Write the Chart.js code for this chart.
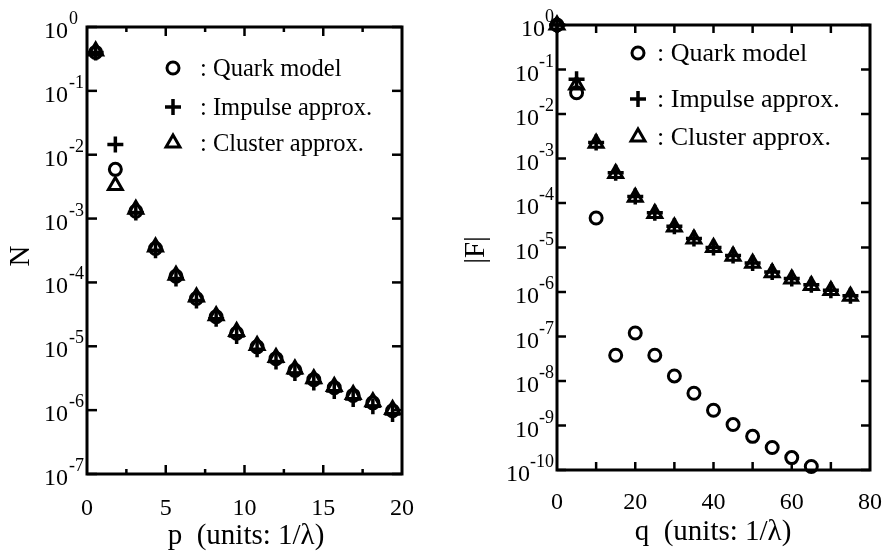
<!DOCTYPE html>
<html>
<head>
<meta charset="utf-8">
<script src="https://cdn.jsdelivr.net/npm/chart.js@4.4.1/dist/chart.umd.min.js"></script>
<style>
  body { margin: 0; background: #fff; }
  #leftChart { position: absolute; left: 0; top: 0; }
  #rightChart { position: absolute; left: 440px; top: 0; }
</style>
</head>
<body>
<canvas id="leftChart" width="440" height="552"></canvas>
<canvas id="rightChart" width="447" height="552"></canvas>
<script>
const serif = '"Liberation Serif", "Times New Roman", serif';

// ---- left panel: N vs p ----
const pValues = [0.55, 1.8, 3.1, 4.35, 5.65, 6.95, 8.2, 9.5, 10.8, 12.0, 13.2, 14.4, 15.7, 16.9, 18.15, 19.4];
const nQuark = [0.40, 5.9e-3, 1.3e-3, 3.4e-4, 1.25e-4, 5.6e-5, 2.9e-5, 1.6e-5, 9.8e-6, 6.4e-6, 4.2e-6, 3.0e-6, 2.25e-6, 1.7e-6, 1.3e-6, 9.8e-7];
const nImpulse = [0.40, 1.45e-2, 1.25e-3, 3.2e-4, 1.15e-4, 5.2e-5, 2.7e-5, 1.45e-5, 9.0e-6, 5.8e-6, 3.8e-6, 2.7e-6, 2.0e-6, 1.5e-6, 1.15e-6, 8.7e-7];
const nCluster = [0.42, 3.3e-3, 1.4e-3, 3.6e-4, 1.3e-4, 5.9e-5, 3.0e-5, 1.7e-5, 1.03e-5, 6.7e-6, 4.4e-6, 3.1e-6, 2.35e-6, 1.75e-6, 1.35e-6, 1.02e-6];

// ---- right panel: |F| vs q ----
const qValues = [0, 5, 10, 15, 20, 25, 30, 35, 40, 45, 50, 55, 60, 65, 70, 75];
const fQuark = [1, 0.03, 4.6e-5, 3.8e-8, 1.2e-7, 3.8e-8, 1.3e-8, 5.3e-9, 2.2e-9, 1.05e-9, 5.7e-10, 3.2e-10, 1.9e-10, 1.2e-10, null, null];
const fImpulse = [1, 0.06, 2.3e-3, 4.8e-4, 1.4e-4, 6.0e-5, 3.0e-5, 1.6e-5, 1.0e-5, 6.6e-6, 4.5e-6, 2.8e-6, 2.0e-6, 1.45e-6, 1.1e-6, 8.2e-7];
const fCluster = [1, 0.045, 2.2e-3, 4.6e-4, 1.35e-4, 5.8e-5, 2.9e-5, 1.55e-5, 1.0e-5, 6.4e-6, 4.4e-6, 2.7e-6, 1.95e-6, 1.4e-6, 1.08e-6, 8.0e-7];

const seriesNames = [': Quark model', ': Impulse approx.', ': Cluster approx.'];

// axis ticks
const leftExponents = [0, -1, -2, -3, -4, -5, -6, -7];
const leftXLabels = [0, 5, 10, 15, 20];
const leftXMajor = [5, 10, 15];
const leftXMinor = [2.5, 7.5, 12.5, 17.5];
const rightExponents = [0, -1, -2, -3, -4, -5, -6, -7, -8, -9, -10];
const rightXLabels = [0, 20, 40, 60, 80];
const rightXTicks = [10, 20, 30, 40, 50, 60, 70];

const markers = [
  { pointStyle: 'circle', radius: 6, width: 3 },
  { pointStyle: 'cross', radius: 8, width: 3.5 },
  { pointStyle: 'triangle', radius: 8, width: 3 }
];

function toPoints(xs, ys) {
  const pts = [];
  xs.forEach((x, i) => { if (ys[i] != null) pts.push({ x: x, y: ys[i] }); });
  return pts;
}

function makeDatasets(xs, series) {
  return series.map((ys, i) => ({
    label: seriesNames[i],
    data: toPoints(xs, ys),
    pointStyle: markers[i].pointStyle,
    pointRadius: markers[i].radius,
    pointBorderWidth: markers[i].width,
    pointBorderColor: '#000',
    pointBackgroundColor: 'rgba(0,0,0,0)',
    showLine: false,
    clip: false
  }));
}

function drawMarker(ctx, m, x, y) {
  ctx.save();
  ctx.strokeStyle = '#000';
  ctx.lineWidth = m.width;
  ctx.beginPath();
  if (m.pointStyle === 'circle') {
    ctx.arc(x, y, m.radius, 0, Math.PI * 2);
  } else if (m.pointStyle === 'cross') {
    ctx.moveTo(x - m.radius, y); ctx.lineTo(x + m.radius, y);
    ctx.moveTo(x, y - m.radius); ctx.lineTo(x, y + m.radius);
  } else {
    for (let k = 0; k < 3; k++) {
      const a = k * 2 * Math.PI / 3;
      const px = x + Math.sin(a) * m.radius, py = y - Math.cos(a) * m.radius;
      if (k === 0) ctx.moveTo(px, py); else ctx.lineTo(px, py);
    }
    ctx.closePath();
  }
  ctx.stroke();
  ctx.restore();
}

function seg(ctx, x1, y1, x2, y2) {
  ctx.beginPath(); ctx.moveTo(x1, y1); ctx.lineTo(x2, y2); ctx.stroke();
}

// frame with inward ticks, tick labels, titles and the legend
const paperAxes = {
  id: 'paperAxes',
  beforeDatasetsDraw(chart, args, o) {
    const { ctx, chartArea: a, scales: { x, y } } = chart;
    ctx.save();
    ctx.strokeStyle = '#000';
    ctx.lineWidth = 2.5;
    o.exponents.forEach(e => {
      const py = y.getPixelForValue(Math.pow(10, e));
      seg(ctx, a.left, py, a.left + o.yTickLen, py);
      seg(ctx, a.right, py, a.right - o.yTickLen, py);
    });
    o.xTicks.forEach(t => {
      const px = x.getPixelForValue(t.v);
      seg(ctx, px, a.bottom, px, a.bottom - t.len);
      seg(ctx, px, a.top, px, a.top + t.len);
    });
    ctx.lineWidth = 3;
    ctx.strokeRect(a.left, a.top, a.right - a.left, a.bottom - a.top);
    ctx.restore();
  },
  afterDraw(chart, args, o) {
    const { ctx, chartArea: a, scales: { x, y } } = chart;
    ctx.save();
    ctx.fillStyle = '#000';
    ctx.textBaseline = 'alphabetic';
    // y tick labels 10^n
    o.exponents.forEach(e => {
      const py = y.getPixelForValue(Math.pow(10, e));
      const expText = e === 0 ? '0' : '-' + Math.abs(e);
      ctx.font = '18px ' + serif;
      const ew = ctx.measureText(expText).width;
      let baseRight;
      if (o.expAlign === 'left') {
        baseRight = a.left - 19;
        ctx.textAlign = 'left';
        ctx.fillText(expText, baseRight + 1, py - 3);
      } else {
        baseRight = a.left - 3 - ew;
        ctx.textAlign = 'right';
        ctx.fillText(expText, a.left - 3, py - 3);
      }
      ctx.font = '24px ' + serif;
      ctx.textAlign = 'right';
      ctx.fillText('10', baseRight, py + 11);
    });
    // x tick labels
    ctx.font = '24px ' + serif;
    ctx.textAlign = 'center';
    o.xLabels.forEach(v => {
      ctx.fillText(String(v), x.getPixelForValue(v), o.xLabelY);
    });
    // axis titles
    ctx.font = '29px ' + serif;
    ctx.fillText(o.xTitle, o.xTitleX, o.xTitleY);
    ctx.save();
    ctx.translate(o.yTitleX, o.yTitleY);
    ctx.rotate(-Math.PI / 2);
    ctx.textBaseline = 'middle';
    ctx.fillText(o.yTitle, 0, 0);
    ctx.restore();
    // legend
    ctx.font = o.legendFont + 'px ' + serif;
    ctx.textAlign = 'left';
    seriesNames.forEach((name, i) => {
      drawMarker(ctx, markers[i], o.legendX, o.legendRows[i]);
      ctx.fillText(name, o.legendTextX, o.legendRows[i] + 8);
    });
    ctx.restore();
  }
};

function baseOptions(xMin, xMax, yMin, padding, axes) {
  return {
    responsive: false,
    animation: false,
    layout: { padding: padding },
    scales: {
      x: { type: 'linear', min: xMin, max: xMax, display: false },
      y: { type: 'logarithmic', min: yMin, max: 1, display: false }
    },
    plugins: {
      legend: { display: false },
      tooltip: { enabled: false },
      paperAxes: axes
    }
  };
}

new Chart('leftChart', {
  type: 'scatter',
  data: { datasets: makeDatasets(pValues, [nQuark, nImpulse, nCluster]) },
  options: baseOptions(0, 20, 1e-7, { left: 87, right: 38, top: 27, bottom: 78 }, {
    exponents: leftExponents,
    yTickLen: 10,
    xTicks: leftXMajor.map(v => ({ v: v, len: 9 })).concat(leftXMinor.map(v => ({ v: v, len: 5 }))),
    xLabels: leftXLabels,
    xLabelY: 515,
    expAlign: 'left',
    xTitle: 'p  (units: 1/\u03bb)',
    xTitleX: 246,
    xTitleY: 544,
    yTitle: 'N',
    yTitleX: 21,
    yTitleY: 256,
    legendX: 173,
    legendTextX: 200,
    legendRows: [68, 107, 143],
    legendFont: 24.5
  }),
  plugins: [paperAxes]
});

new Chart('rightChart', {
  type: 'scatter',
  data: { datasets: makeDatasets(qValues, [fQuark, fImpulse, fCluster]) },
  options: baseOptions(0, 80, 1e-10, { left: 117, right: 17, top: 25, bottom: 82 }, {
    exponents: rightExponents,
    yTickLen: 9,
    xTicks: rightXTicks.map(v => ({ v: v, len: 8 })),
    xLabels: rightXLabels,
    xLabelY: 509,
    expAlign: 'right',
    xTitle: 'q  (units: 1/\u03bb)',
    xTitleX: 273,
    xTitleY: 540,
    yTitle: '|F|',
    yTitleX: 36,
    yTitleY: 250,
    legendX: 198,
    legendTextX: 217,
    legendRows: [53, 99, 137],
    legendFont: 26
  }),
  plugins: [paperAxes]
});
</script>
</body>
</html>
